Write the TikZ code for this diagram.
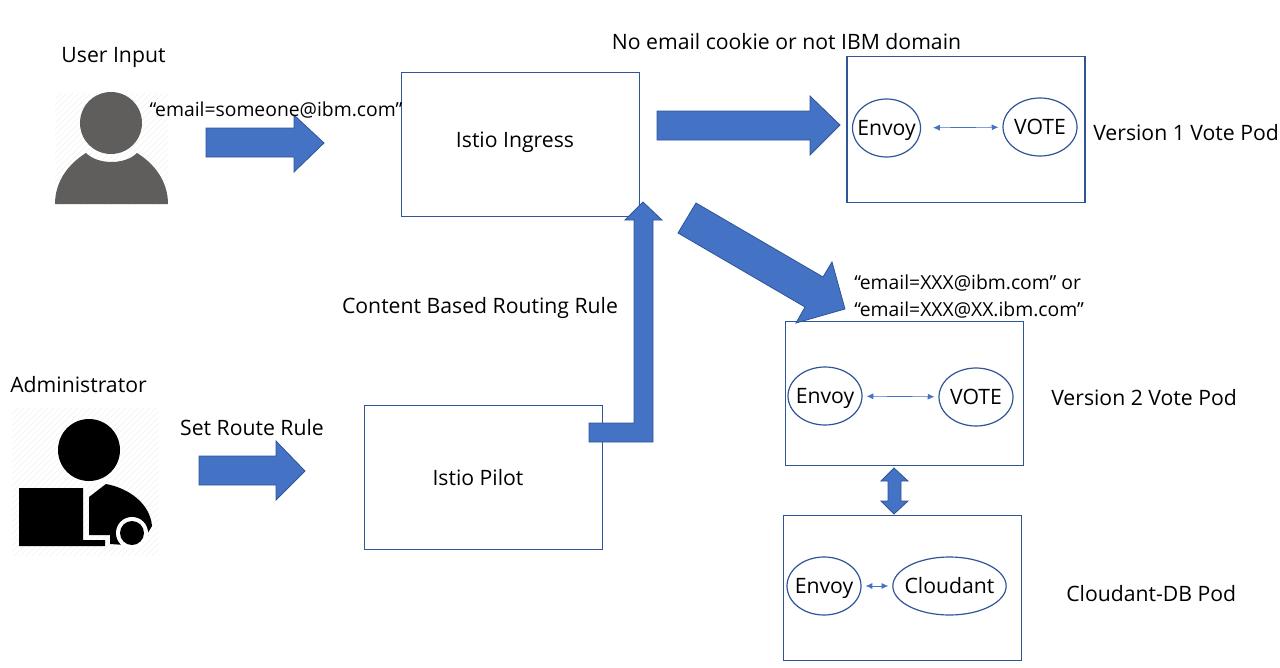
\documentclass[tikz,border=0pt]{standalone}
\usepackage{fontspec}
\setmainfont{Open Sans}
\usetikzlibrary{shapes.geometric,arrows.meta}
\definecolor{arrowblue}{HTML}{4472C4}
\definecolor{edgeblue}{HTML}{2F5597}
\definecolor{iconuser}{HTML}{5F5E5C}
\tikzset{
	words/.style={font=\fontsize{15.9pt}{19pt}\selectfont,inner sep=0pt},
	emailwords/.style={font=\fontsize{14.5pt}{17pt}\selectfont,inner sep=0pt},
	podbox/.style={draw=edgeblue,line width=0.9pt,minimum width=178.5pt,minimum height=108.5pt,inner sep=0pt},
	podball/.style={words,draw=edgeblue,line width=0.9pt,ellipse,minimum width=55.5pt,minimum height=43.5pt,inner sep=-10pt,text height=14.5pt,text depth=3.5pt},
	blockarrow/.style={fill=arrowblue,draw=edgeblue,line width=0.6pt,line join=miter},
	podlink/.style={draw=arrowblue,line width=0.5pt,{Latex[length=5pt,width=4.5pt]}-{Latex[length=5pt,width=4.5pt]},shorten >=3pt,shorten <=3pt}
}
\begin{document}
\begin{tikzpicture}[x=0.75pt,y=-0.75pt]
	\useasboundingbox (0,0) rectangle (1280,667);

	% user icon
	\begin{scope}
		\clip (55,93) rectangle (168,204);
		\foreach \s in {0,6,...,230}
			\draw[black!6,line width=0.4pt] (55+\s,93) -- (55+\s-120,213);
	\end{scope}
	\fill[iconuser] (111,123) circle (31);
	\fill[iconuser] (55,204) .. controls (55,182) and (68,164) .. (86,153) .. controls (98,165) and (125,165) .. (137,153) .. controls (155,164) and (168,182) .. (168,204) -- cycle;
	\draw (113.5,57.5) node[words](userinput){User Input};

	% admin icon
	\begin{scope}
		\clip (12,408) rectangle (159,555);
		\foreach \s in {0,6,...,300}
			\draw[black!6,line width=0.4pt] (12+\s,408) -- (12+\s-150,558);
	\end{scope}
	\fill[black] (89,450) circle (31);
	\fill[black] (19,488) -- (83,488) -- (83,540) -- (105,540) -- (105,546) -- (19,546) -- cycle;
	\fill[black] (89,497) -- (106,484) .. controls (128,488) and (150,503) .. (152,526) -- (140,546) -- (110,544) -- (110,535) -- (89,535) -- cycle;
	\fill[white] (132,533) circle (16);
	\fill[black] (132,533) circle (12);
	\draw (78.5,384.5) node[words](administrator){Administrator};

	% boxes
	\draw (520.5,144.5) node[podbox](ingress){};
	\draw (483.5,477.5) node[podbox](pilot){};
	\draw (966,129.5) node[podbox,minimum height=110pt](podone){};
	\draw (904.5,393.5) node[podbox](podtwo){};
	\draw (902.5,588) node[podbox](poddb){};
	\draw (515,142.5) node[words](ingresstext){Istio Ingress};
	\draw (478,478) node[words](pilottext){Istio Pilot};

	% block arrows
	\draw[blockarrow] (206,128) -- (294,128) -- (294,115) -- (324,143) -- (294,172) -- (294,157) -- (206,157) -- cycle;
	\draw[blockarrow] (657,111) -- (810,111) -- (810,96) -- (840,125) -- (810,155) -- (810,140) -- (657,140) -- cycle;
	\draw[blockarrow] (199,456) -- (276,456) -- (276,441) -- (305,471) -- (276,500) -- (276,485) -- (199,485) -- cycle;
	\draw[blockarrow] (589,423) -- (634,423) -- (634,220) -- (625,220) -- (643,202) -- (662,220) -- (653,220) -- (653,442) -- (589,442) -- cycle;
	\draw[blockarrow] (696,203) -- (823,277) -- (832,262) -- (845,309) -- (796,323) -- (805,307) -- (678,233) -- cycle;
	\draw[blockarrow] (894,468) -- (908,481) -- (901,481) -- (901,501) -- (908,501) -- (894,514) -- (881,501) -- (888,501) -- (888,481) -- (881,481) -- cycle;

	% pods
	\draw (886.5,128) node[podball,minimum width=51pt](envoyone){Envoy};
	\draw (1040,127) node[podball](voteone){VOTE};
	\draw[podlink,shorten <=9pt] (envoyone) -- (voteone);
	\draw (825,396) node[podball](envoytwo){Envoy};
	\draw (976,397) node[podball](votetwo){VOTE};
	\draw[podlink] (envoytwo) -- (votetwo);
	\draw (824,586) node[podball](envoydb){Envoy};
	\draw (949.5,586) node[podball,minimum width=85pt](cloudant){Cloudant};
	\draw[podlink] (envoydb) -- (cloudant);

	% labels
	\draw (276,110.5) node[emailwords](emailtext){“email=someone@ibm.com”};
	\draw (786.5,42) node[words](nocookie){No email cookie or not IBM domain};
	\draw (1093,133) node[words,anchor=west](versionone){Version 1 Vote Pod};
	\draw (854,283) node[emailwords,anchor=west](emailone){“email=XXX@ibm.com” or};
	\draw (854,310) node[emailwords,anchor=west](emailtwo){“email=XXX@XX.ibm.com”};
	\draw (480,307.5) node[words](routingrule){Content Based Routing Rule};
	\draw (252,427.5) node[words](setroute){Set Route Rule};
	\draw (1051,398) node[words,anchor=west](versiontwo){Version 2 Vote Pod};
	\draw (1066,594) node[words,anchor=west](versiondb){Cloudant-DB Pod};
\end{tikzpicture}
\end{document}
